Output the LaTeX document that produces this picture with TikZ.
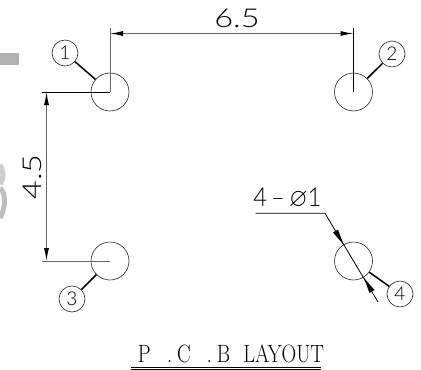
\documentclass[tikz,border=0pt]{standalone}
\usepackage{fontspec}
\usepackage{amssymb}
\setsansfont{Lato}[UprightFont=* Light]
\usetikzlibrary{arrows.meta,calc}
\tikzset{
  hole/.style={circle,draw=black!85,line width=0.6pt,minimum size=38pt,inner sep=0pt},
  tag/.style={circle,draw=black!85,line width=0.6pt,minimum size=26pt,inner sep=0pt,font=\sffamily\fontsize{19}{19}\selectfont},
  leader/.style={line width=1.5pt,black},
  ext/.style={line width=0.8pt,black},
  extg/.style={line width=1pt,black!60},
  dimline/.style={line width=1pt,black!60,{Latex[length=13pt,width=5pt,black]}-{Latex[length=13pt,width=5pt,black]}},
  dimtext/.style={inner sep=0pt,font=\sffamily\fontsize{26}{26}\selectfont},
  ghost/.style={black!30}
}
\begin{document}
\begin{tikzpicture}[x=1pt,y=-1pt]
\useasboundingbox (0,0) rectangle (421,370);
% watermark remnants
\fill[ghost] (0,53) rectangle (19,65);
\draw[black!20,line width=5pt] (0,165) .. controls (4,172) and (4,178) .. (0,184);
\draw[black!25,line width=5pt] (0,188) .. controls (6,192) and (6,208) .. (0,218);
% holes
\node[hole] (h1) at (110,92) {};
\node[hole] (h2) at (353.5,92) {};
\node[hole] (h3) at (110,261) {};
\node[hole] (h4) at (353.5,261) {};
\coordinate (c1) at (h1.center);
\coordinate (c2) at (h2.center);
\coordinate (c3) at (h3.center);
\coordinate (c4) at (h4.center);
% tags
\node[tag] (t1) at (65,53) {1};
\node[tag] (t2) at (392,54) {2};
\node[tag] (t3) at (72,299) {3};
\node[tag] (t4) at (400,294) {4};
\draw[leader] (t1) -- (h1);
\draw[leader] (t2) -- (h2);
\draw[leader] (t3) -- (h3);
\draw[leader] (t4) -- (h4);
% extension lines
\coordinate (e1) at (110,28);
\coordinate (e2) at (353.5,28);
\coordinate (e3) at (42,92);
\coordinate (e4) at (42,261);
\draw[extg] (e1) -- (c1);
\draw[ext] (e2) -- (c2);
\draw[ext] (e3) -- (c1);
\draw[extg] (e4) -- (c3);
% dimension lines
\coordinate (d1) at (110,33.5);
\coordinate (d2) at (353.5,33.5);
\coordinate (d3) at (46.5,92);
\coordinate (d4) at (46.5,261);
\draw[dimline] (d1) -- (d2);
\draw[dimline] (d3) -- (d4);
\node[dimtext,xscale=1.25] (a) at (237,18) {6.5};
\node[dimtext,rotate=90,xscale=1.25] (b) at (32,177) {4.5};
% diameter callout
\coordinate (l1) at (255.5,213.3);
\coordinate (l2) at (325,213.3);
\coordinate (l3) at (378,302);
\coordinate (tipa) at (343.5,244.5);
\coordinate (tipb) at (364,278);
\draw[ext] (l1) -- (l2) -- (l3);
\fill[black] (tipa) -- ($(tipa)+(-10.5,-12)$) -- ($(tipa)+(-5.5,-15)$) -- cycle;
\fill[black] (tipb) -- ($(tipb)+(10.5,12)$) -- ($(tipb)+(5.5,15)$) -- cycle;
\node[dimtext,xscale=0.92] (c) at (287.5,198) {4\,--\,$\varnothing$1};
% title
\node[inner sep=0pt,xscale=0.815,font=\fontsize{25}{25}\selectfont] (title) at (231,354) {P\hspace{20pt}.\hspace{6pt}C\hspace{20pt}.\hspace{6pt}B\hspace{16pt}LAYOUT};
\coordinate (u1) at (131,367);
\coordinate (u2) at (320.5,367);
\coordinate (u3) at (131,369.3);
\coordinate (u4) at (320.5,369.3);
\draw[line width=0.7pt] (u1) -- (u2);
\draw[line width=0.7pt] (u3) -- (u4);
\end{tikzpicture}
\end{document}
